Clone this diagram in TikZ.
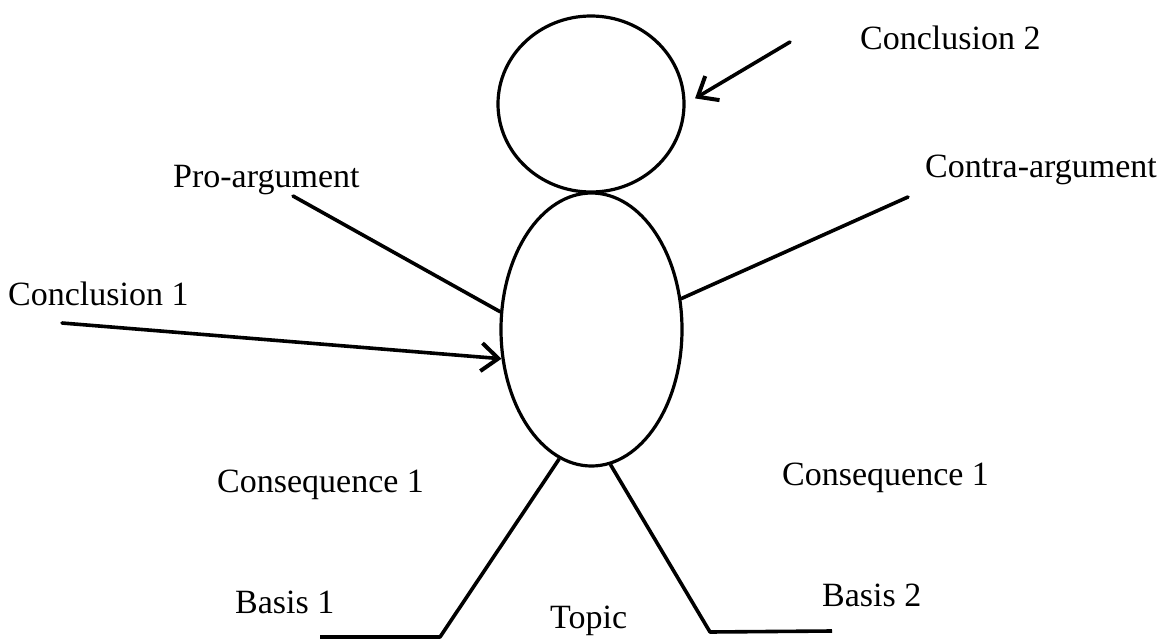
\documentclass[tikz,border=0pt]{standalone}
\usepackage{fontspec}
\setmainfont{Liberation Serif}
\usetikzlibrary{shapes.geometric,arrows.meta}
\tikzset{
  figure/.style={shape=ellipse, draw, line width=3.2pt, inner sep=0pt},
  limb/.style={line width=3.6pt, line cap=round, line join=round},
  pointer/.style={limb, -{Straight Barb[length=17pt,width=28pt,line width=4pt]}},
  caption/.style={anchor=base west, inner sep=0pt, font=\fontsize{34}{40}\selectfont}
}
\begin{document}
\begin{tikzpicture}[x=1pt, y=-1pt]
  \useasboundingbox (0,0) rectangle (1162,642);

  % head and torso
  \node[figure, minimum width=186pt, minimum height=176pt] (head) at (591,104) {};
  \node[figure, minimum width=181pt, minimum height=273pt] (body) at (591.5,329.5) {};

  % labels
  \node[caption] (concl2) at (860,50) {Conclusion 2};
  \node[caption] (contra) at (925,177) {Contra-argument};
  \node[caption] (pro) at (173,187) {Pro-argument};
  \node[caption] (concl1) at (8,305) {Conclusion 1};
  \node[caption] (consL) at (217,492) {Consequence 1};
  \node[caption] (consR) at (782,485) {Consequence 1};
  \node[caption] (basis1) at (235,613) {Basis 1};
  \node[caption] (basis2) at (822,606) {Basis 2};
  \node[caption] (topic) at (550,628) {Topic};

  % free ends of the limbs and arrows
  \coordinate (c2start) at (790,42);
  \coordinate (c1start) at (62,323);
  \coordinate (prohand) at (293,196);
  \coordinate (contrahand) at (908,197);
  \coordinate (lknee) at (440,637);
  \coordinate (ltoe) at (320,637);
  \coordinate (rheel) at (710,632);
  \coordinate (rtoe) at (832,631);

  % arrows
  \draw[pointer, shorten >=11pt] (c2start) -- (head.east);
  \draw[pointer] (c1start) -- (body.198.5);

  % arms
  \draw[limb] (prohand) -- (body.169.2);
  \draw[limb] (body.19.7) -- (contrahand);

  % legs and feet
  \draw[limb, line cap=butt] (body.256.4) -- (lknee) -- (ltoe);
  \draw[limb, line cap=butt] (body.278) -- (rheel) -- (rtoe);
\end{tikzpicture}
\end{document}
